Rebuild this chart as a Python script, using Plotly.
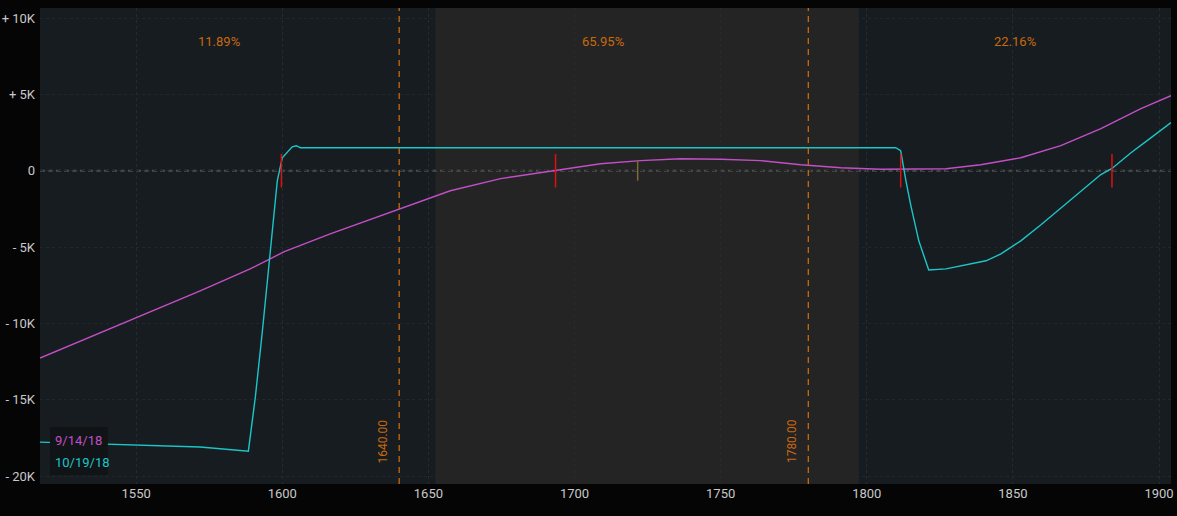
import plotly.graph_objects as go

# ---- data ----
mag_x = [1517.1, 1537.7, 1554.8, 1571.9, 1589.0, 1600.7, 1616.4, 1640.1, 1657.5, 1674.7,
         1693.5, 1708.9, 1722.6, 1736.3, 1750.0, 1763.7, 1777.4, 1791.1, 1804.8, 1827.1,
         1839.0, 1852.7, 1866.4, 1880.1, 1893.8, 1904.1]
mag_y = [-12270, -10600, -9250, -7870, -6430, -5300, -4130, -2490, -1310, -520,
         0, 460, 660, 790, 750, 660, 390, 200, 100, 130,
         390, 850, 1640, 2760, 4070, 4920]

cyan_x = [1517.1, 1571.9, 1588.4, 1590.8, 1593.2, 1595.9, 1598.3, 1600.0, 1601.7, 1603.4,
          1604.8, 1606.2, 1809.9, 1811.6, 1813.4, 1815.1, 1817.8, 1821.2, 1827.1, 1840.8,
          1845.9, 1852.7, 1859.6, 1866.4, 1873.3, 1880.1, 1883.9, 1890.4, 1897.3, 1904.1]
cyan_y = [-17780, -18100, -18370, -14800, -10500, -5250, -650, 850, 1180, 1570,
          1640, 1510, 1510, 1310, -660, -2300, -4590, -6500, -6430, -5900,
          -5450, -4590, -3540, -2430, -1310, -250, 150, 1180, 2170, 3150]

red_marks_x = [1599.7, 1693.5, 1811.6, 1883.9]
red_mark_lo, red_mark_hi = -1100, 1100
tan_mark_x = [1721.6]
tan_mark_lo, tan_mark_hi = -650, 700

sigma_lo, sigma_hi = 1652.4, 1797.3
strike_lines = [1640, 1780]
strike_labels = ["1640.00", "1780.00"]
strike_label_x = [1634.6, 1774.4]
pct_x = [1578.4, 1709.6, 1850.7]
pct_labels = ["11.89%", "65.95%", "22.16%"]

x_ticks = [1550, 1600, 1650, 1700, 1750, 1800, 1850, 1900]
y_ticks = [10000, 5000, 0, -5000, -10000, -15000, -20000]
y_tick_text = ["+ 10K", "+ 5K", "0", "- 5K", "- 10K", "- 15K", "- 20K"]

series_names = ["9/14/18", "10/19/18"]
series_colors = ["#c24fc6", "#1cc6c8"]
ORANGE = "#c8690f"
FONT = "Roboto"

fig = go.Figure()

# shaded 1-sigma region
fig.add_shape(type="rect", xref="x", yref="paper", x0=sigma_lo, x1=sigma_hi, y0=0, y1=1,
              fillcolor="#242424", line_width=0, layer="below")

# zero line
fig.add_shape(type="line", xref="paper", yref="y", x0=0, x1=1, y0=0, y1=0,
              line=dict(color="#4c4c4c", width=2, dash="5px,3px"), layer="below")

# strike lines
for sx in strike_lines:
    fig.add_shape(type="line", xref="x", yref="paper", x0=sx, x1=sx, y0=0, y1=1,
                  line=dict(color=ORANGE, width=1.3, dash="6px,5px"))

fig.add_trace(go.Scatter(x=mag_x, y=mag_y, mode="lines", line=dict(color=series_colors[0], width=1.4),
                         name=series_names[0], showlegend=False, hoverinfo="skip"))
fig.add_trace(go.Scatter(x=cyan_x, y=cyan_y, mode="lines", line=dict(color=series_colors[1], width=1.4),
                         name=series_names[1], showlegend=False, hoverinfo="skip"))

# markers
rx, ry = [], []
for v in red_marks_x:
    rx += [v, v, None]
    ry += [red_mark_lo, red_mark_hi, None]
fig.add_trace(go.Scatter(x=rx, y=ry, mode="lines", line=dict(color="#e01010", width=1.5),
                         showlegend=False, hoverinfo="skip"))
tx, ty = [], []
for v in tan_mark_x:
    tx += [v, v, None]
    ty += [tan_mark_lo, tan_mark_hi, None]
fig.add_trace(go.Scatter(x=tx, y=ty, mode="lines", line=dict(color="#7d6a3a", width=1.5),
                         showlegend=False, hoverinfo="skip"))

# percentage labels
for px_, t in zip(pct_x, pct_labels):
    fig.add_annotation(x=px_, y=0.93, xref="x", yref="paper", text=t, showarrow=False,
                       xanchor="center", yanchor="middle",
                       font=dict(family=FONT, size=13, color=ORANGE))

# strike labels rotated
for lx, t in zip(strike_label_x, strike_labels):
    fig.add_annotation(x=lx, y=0.09, xref="x", yref="paper", text=t, showarrow=False,
                       textangle=-90, xanchor="center", yanchor="middle",
                       font=dict(family=FONT, size=12, color=ORANGE))

# legend box
fig.add_shape(type="rect", xref="paper", yref="paper", x0=0.0088, x1=0.060, y0=0.019, y1=0.12,
              fillcolor="#111417", line_width=0, layer="above")
for name, col, yy in zip(series_names, series_colors, [0.092, 0.046]):
    fig.add_annotation(x=0.0115, y=yy, xref="paper", yref="paper", xanchor="left", yanchor="middle",
                       text=name, showarrow=False, font=dict(family=FONT, size=13, color=col))

fig.update_layout(
    width=1177, height=516,
    margin=dict(l=40, r=6, t=8, b=32, autoexpand=False),
    paper_bgcolor="#050505",
    plot_bgcolor="#171c20",
    showlegend=False,
    xaxis=dict(range=[1517.1, 1904.1], tickvals=x_ticks, showgrid=True, gridcolor="#262b2f",
               griddash="dot", zeroline=False, showline=False, ticks="", automargin=False,
               tickfont=dict(family=FONT, size=13, color="#c8c8c8")),
    yaxis=dict(range=[-20520, 10660], tickvals=y_ticks, ticktext=y_tick_text, showgrid=True,
               gridcolor="#22272b", griddash="dot", zeroline=False, showline=False, ticks="",
               ticklabelstandoff=4, automargin=False,
               tickfont=dict(family=FONT, size=13, color="#c8c8c8")),
)

fig.write_html("out.html", config={"displayModeBar": False},
               post_script="document.body.style.margin='0';document.body.style.background='#050505';")
